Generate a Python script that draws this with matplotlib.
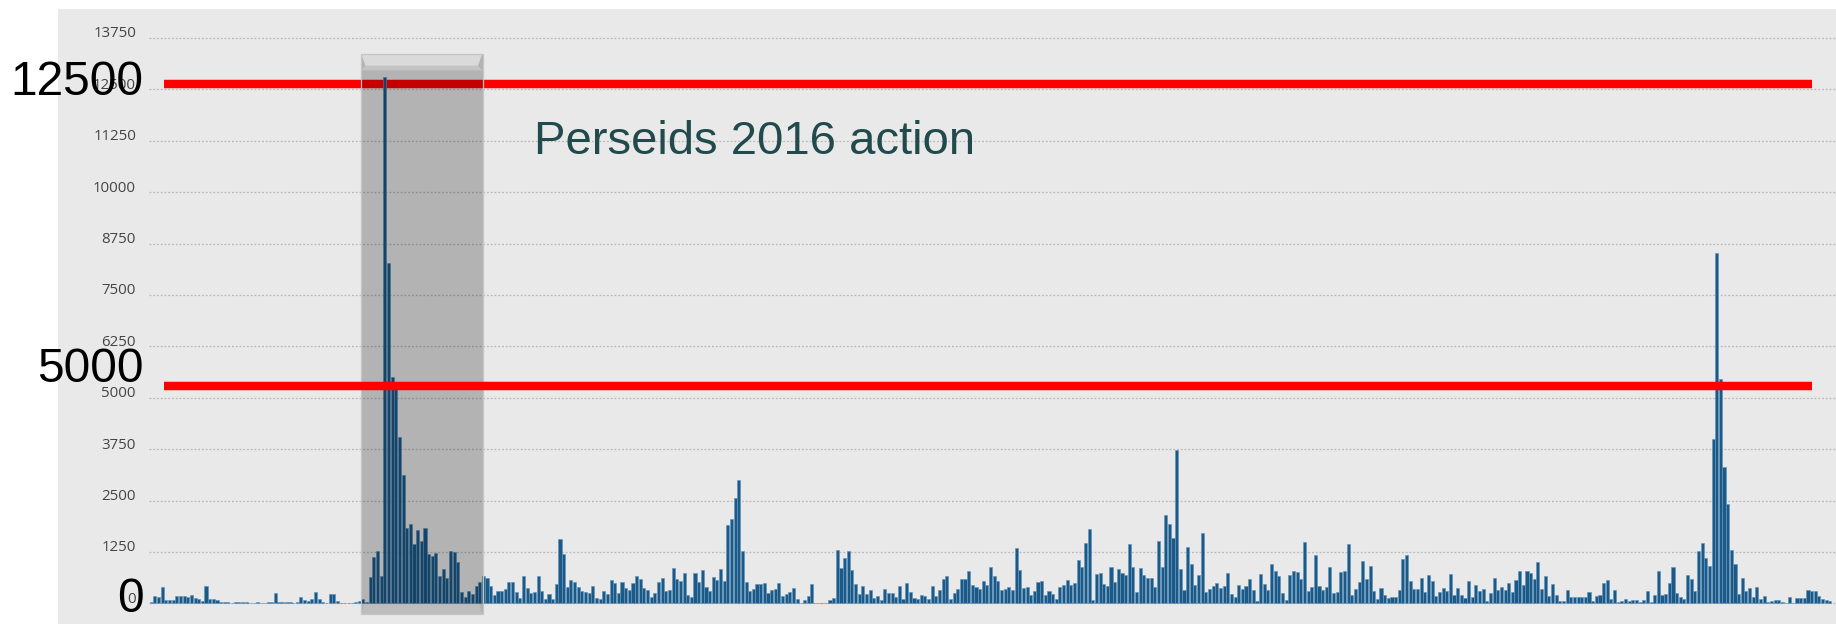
import matplotlib
matplotlib.use("Agg")
import matplotlib.pyplot as plt
from matplotlib.patches import Rectangle, Polygon
from matplotlib.transforms import ScaledTranslation
import numpy as np

# daily counts (Jun 2016 .. Sep 2017)
counts = [
    40,178,162,389,81,81,81,178,170,170,162,211,138,97,65,430,97,113,81,40,40,20,15,25,20,25,20,15,15,40,
    15,10,40,40,243,20,25,20,30,10,20,146,81,65,97,267,97,20,10,227,227,65,15,5,10,15,40,57,97,32,
    648,1134,1272,664,12792,8268,5500,5200,4034,3118,1839,1920,1434,1774,1523,1839,1199,1142,1231,664,
    834,616,1272,1247,1013,267,162,292,219,421,527,664,608,421,211,308,292,348,510,510,267,121,672,381,
    259,275,672,308,105,235,97,462,1571,1191,389,575,
    518,389,308,267,259,413,121,105,300,219,559,494,243,510,373,332,494,672,599,365,332,146,251,518,616,
    292,316,859,591,543,745,194,162,737,527,802,389,308,632,567,826,551,1895,2057,2568,2989,1280,510,308,
    348,470,470,494,243,316,340,
    486,186,219,267,373,105,16,73,186,470,0,0,0,0,73,122,1296,851,1094,1264,818,470,235,421,235,332,130,
    178,73,340,259,251,154,421,97,502,284,122,113,211,178,97,429,178,316,600,656,105,251,356,600,600,778,
    446,397,340,543,
    437,883,656,543,332,356,397,332,1345,802,373,397,211,292,510,535,203,308,219,113,389,437,567,437,494,
    1061,883,1467,1806,89,721,745,462,421,875,510,826,745,697,1450,875,267,867,689,616,608,405,1507,875,
    2138,1920,1580,3726,826,316,1361,948,446,
    689,1701,284,340,413,494,365,413,729,219,154,437,356,413,583,324,49,721,462,332,964,786,664,251,73,
    689,794,753,600,1499,308,389,1183,429,332,389,891,251,284,770,786,1450,211,348,510,1037,591,899,308,
    113,381,203,130,162,162,332,1085,
    1175,551,348,348,624,267,680,543,170,284,365,308,713,203,365,211,122,543,154,437,308,356,65,243,608,
    332,405,324,502,267,567,786,454,794,729,591,1004,348,664,186,462,194,57,57,316,162,162,146,146,146,
    267,57,170,203,494,575,105,324,
    24,65,97,57,81,73,24,81,292,32,211,794,211,227,486,875,259,162,113,697,599,308,1280,1458,1110,899,
    3993,8529,5443,3321,2414,1304,964,219,616,292,373,154,397,105,178,24,65,73,73,24,5,146,5,121,121,130,
    316,308,292,186,113,73,49,
]
ytick_values = list(range(0, 13751, 1250))
ref_levels = [12620, 5280]          # where the red lines sit in the picture
ref_labels = ["12500", "5000", "0"]
note = "Perseids 2016 action"

W, H = 1836, 624
fig = plt.figure(figsize=(W / 100, H / 100), dpi=100, facecolor="white")

# grey panel behind the chart
fig.patches.append(Rectangle((58 / W, 0), 1 - 58 / W, 1 - 9 / H, transform=fig.transFigure,
                             facecolor="#e9e9e9", edgecolor="none", zorder=-5))

ax = fig.add_axes([149 / W, 0, 1 - 149 / W, 1 - 9 / H])
ax.set_facecolor("none")
ax.set_xlim(-0.63, 461.68)
ax.set_ylim(-503, 14453)
for s in ax.spines.values():
    s.set_visible(False)
ax.set_xticks([])
ax.set_yticks([])

# dotted grid + tick labels
ax.hlines(ytick_values, -0.63, 461.68, colors="#b9b9b9", linestyles=(0, (1.5, 1.5)), linewidth=0.9, zorder=0.5)
lab_tr = ax.get_yaxis_transform() + ScaledTranslation(-13 / 100, 0.5 / 100, fig.dpi_scale_trans)
for v in ytick_values:
    ax.text(0, v, str(v), transform=lab_tr, ha="right", va="baseline", fontsize=10.8,
            family="Open Sans", color="#444444", clip_on=False)

x = np.arange(len(counts))
ax.bar(x, counts, width=0.85, color="#1b5a87", edgecolor="#6494bd", linewidth=0.45, zorder=2)

# top red line sits under the highlight box
ax.hlines(ref_levels[0], 3.48, 455.1, colors="#ff0000", linewidth=6.1, zorder=1.5)

# highlight box
x0, x1, y0, y1 = 57.38, 90.82, -260, 13359
ax.add_patch(Rectangle((x0, y0), x1 - x0, y1 - y0, facecolor="black", alpha=0.23,
                       edgecolor="none", zorder=3))
ax.add_patch(Rectangle((x0, y0), x1 - x0, y1 - y0, facecolor="none", edgecolor="#c6c6c6",
                       linewidth=0.9, zorder=3.2))
ax.add_patch(Polygon([(x0 + 0.15, y1), (x1 - 0.15, y1), (x1 - 1.3, 13070), (x0 + 1.3, 13070)],
                     closed=True, facecolor="#dadada", edgecolor="none", zorder=3.1))
ax.add_patch(Polygon([(x0 + 0.15, 12960), (x1 - 0.15, 12960), (x1 - 1.3, 13070), (x0 + 1.3, 13070)],
                     closed=True, facecolor="#c4c4c4", edgecolor="none", zorder=3.1))
ax.add_patch(Polygon([(x0 + 0.15, y0), (x1 - 0.15, y0), (x1 - 1.0, -20), (x0 + 1.0, -20)],
                     closed=True, facecolor="#bdbdbd", edgecolor="none", zorder=3.1))

# lower red line on top of everything
ax.hlines(ref_levels[1], 3.48, 455.1, colors="#ff0000", linewidth=6.1, zorder=4)

ax.text(104.8, 10927, note, ha="left", va="baseline", fontsize=34, family="Liberation Sans",
        color="#214a4d", zorder=5)

# big labels on the left
for lab, ypx in zip(ref_labels, [95, 382, 611.5]):
    fig.text(143.5 / W, 1 - ypx / H, lab, ha="right", va="baseline", fontsize=34.5,
             family="Liberation Sans", color="black", zorder=6)

fig.savefig("out.png", dpi=100, facecolor=fig.get_facecolor())
